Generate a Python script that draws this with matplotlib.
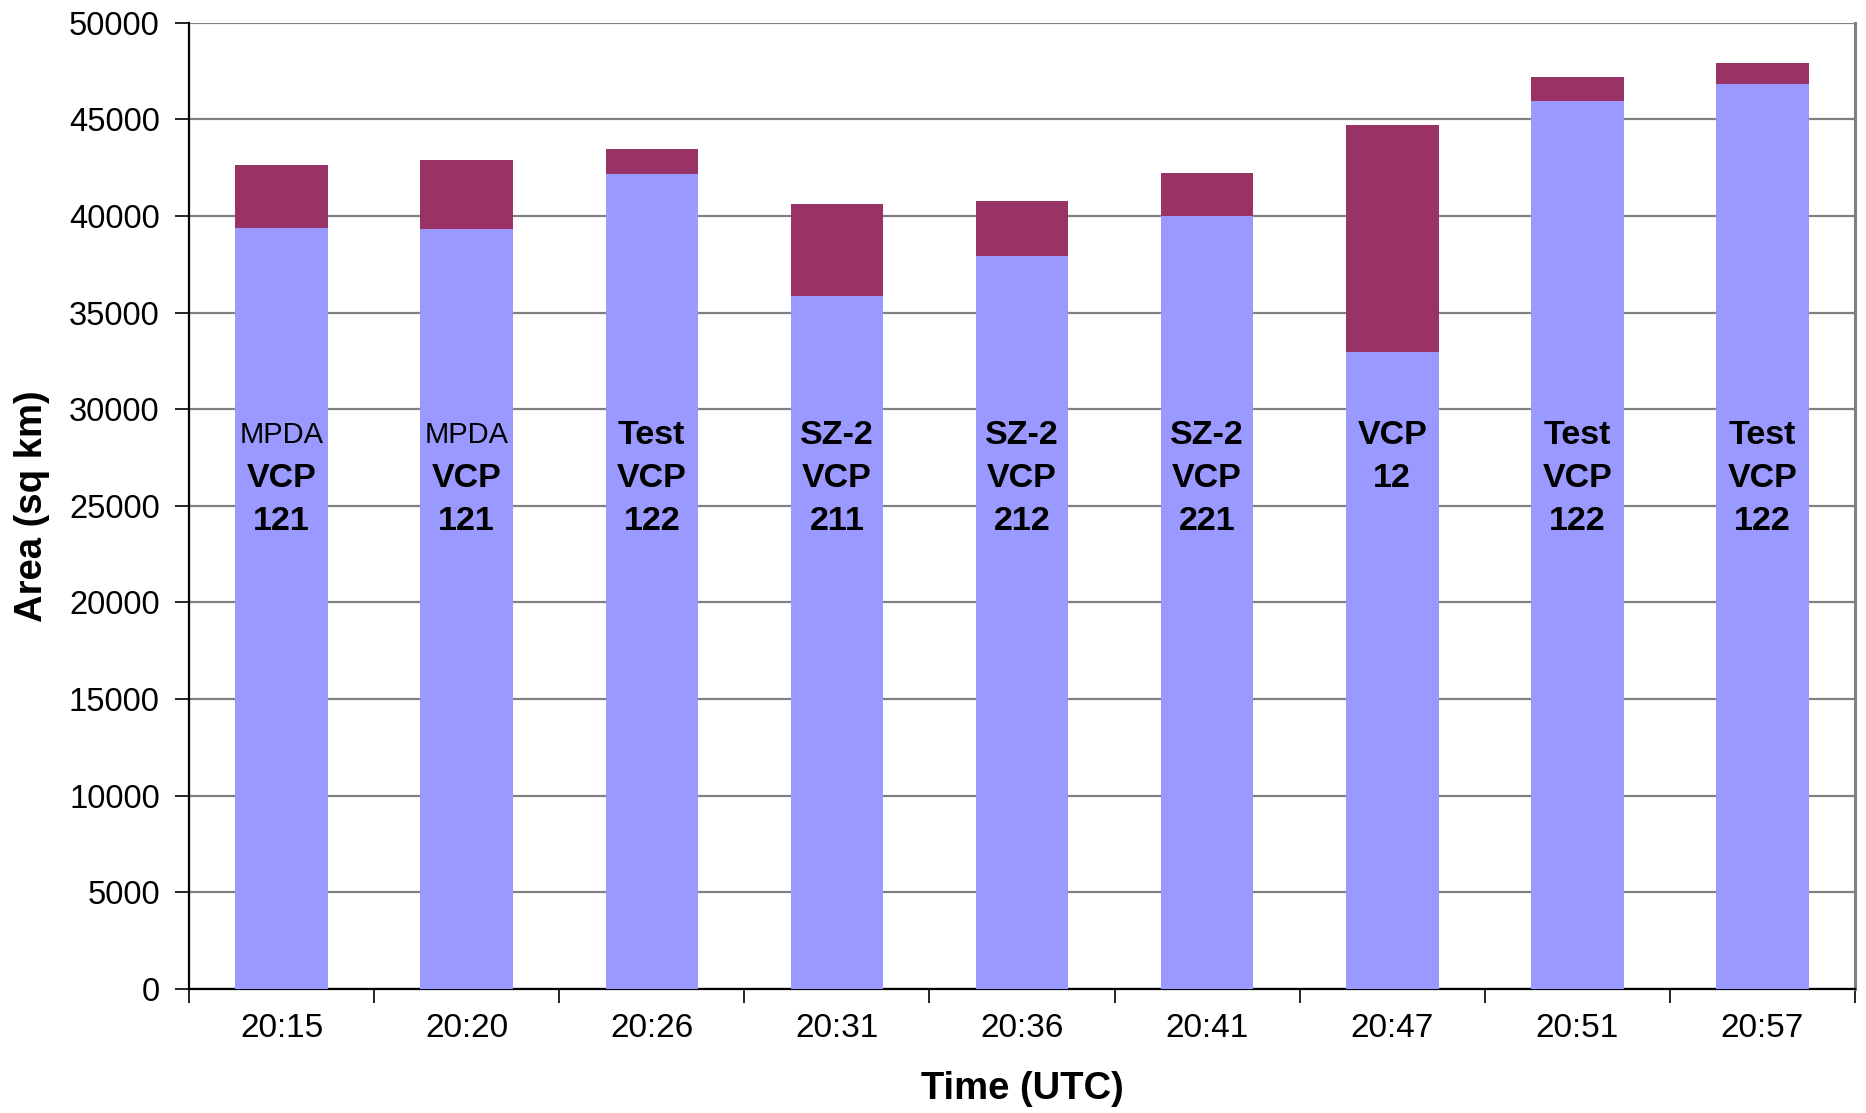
import matplotlib
matplotlib.use("Agg")
import matplotlib.pyplot as plt
import numpy as np

# Scan times and the two stacked components of the area (sq km)
times = ["20:15", "20:20", "20:26", "20:31", "20:36", "20:41", "20:47", "20:51", "20:57"]
base_area = [39380, 39330, 42170, 35860, 37930, 40000, 32960, 45950, 46830]
total_area = [42640, 42900, 43470, 40620, 40770, 42220, 44710, 47190, 47910]
extra_area = [t - b for t, b in zip(total_area, base_area)]

# Scan strategy annotations, one list of lines per bar; first-line style flag
scan_lines = [
    ["MPDA", "VCP", "121"],
    ["MPDA", "VCP", "121"],
    ["Test", "VCP", "122"],
    ["SZ-2", "VCP", "211"],
    ["SZ-2", "VCP", "212"],
    ["SZ-2", "VCP", "221"],
    ["VCP", "12"],
    ["Test", "VCP", "122"],
    ["Test", "VCP", "122"],
]
narrow_first = [True, True, False, False, False, False, False, False, False]

y_ticks = [0, 5000, 10000, 15000, 20000, 25000, 30000, 35000, 40000, 45000, 50000]

BLUE = "#9999FF"
MAROON = "#993366"
GRID = "#808080"

plt.rcParams["font.family"] = ["Liberation Sans", "DejaVu Sans"]

fig = plt.figure(figsize=(18.66, 11.13), dpi=100)
ax = fig.add_axes([189 / 1866, 1 - 989 / 1113, (1855 - 189) / 1866, (989 - 22.7) / 1113])

x = np.arange(len(times))
ax.bar(x, base_area, width=0.5, color=BLUE, zorder=3)
ax.bar(x, extra_area, width=0.5, bottom=base_area, color=MAROON, zorder=3)

ax.set_xlim(-0.5, len(times) - 0.5)
ax.set_ylim(0, 50000)
ax.set_yticks(y_ticks)
ax.set_yticklabels([str(v) for v in y_ticks])
ax.yaxis.grid(True, color=GRID, linewidth=1.6, zorder=0)
ax.set_axisbelow(True)

# Category labels centred under bars, tick marks on category boundaries
ax.set_xticks(x)
ax.set_xticklabels(times)
ax.set_xticks(np.arange(-0.5, len(times), 1.0), minor=True)
ax.tick_params(axis="x", which="major", length=0, pad=17.5, labelsize=24)
ax.tick_params(axis="x", which="minor", length=10, width=1.2, direction="out", color="black")
ax.tick_params(axis="y", length=10, width=1.2, direction="out", pad=11, labelsize=23.5)

for side in ["left", "bottom"]:
    ax.spines[side].set_color("black")
    ax.spines[side].set_linewidth(1.6)
ax.spines["right"].set_color(GRID)
ax.spines["right"].set_linewidth(2.2)
ax.spines["top"].set_visible(False)

ax.set_xlabel("Time (UTC)", fontsize=27.5, fontweight="bold", labelpad=19)
ax.set_ylabel("Area (sq km)", fontsize=27.5, fontweight="bold", labelpad=14)

# Scan strategy text stacked inside each bar
anchor = 28660
step_pt = -31
for i, lines in enumerate(scan_lines):
    for j, line in enumerate(lines):
        if j == 0 and narrow_first[i]:
            kw = dict(fontsize=21, fontweight="normal")
        else:
            kw = dict(fontsize=24.5, fontweight="bold")
        ax.annotate(line, xy=(x[i], anchor), xytext=(0, j * step_pt),
                    textcoords="offset points", ha="center", va="center",
                    zorder=5, **kw)

fig.savefig("out.png", dpi=100, facecolor="white")
